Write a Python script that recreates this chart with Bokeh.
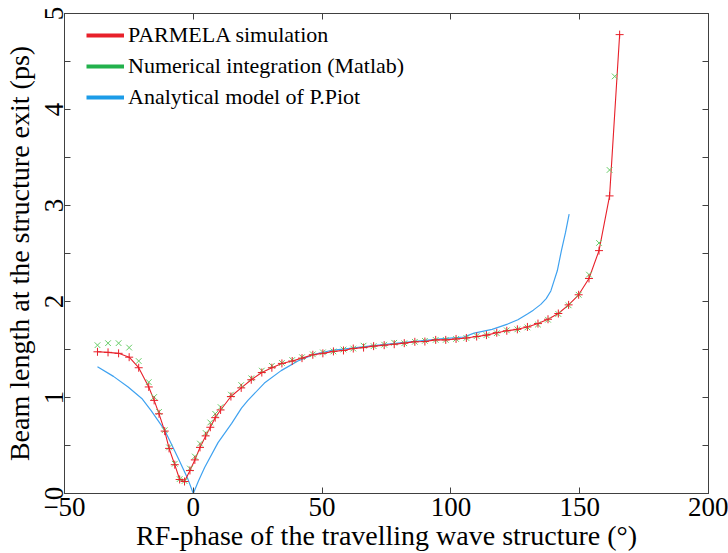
from bokeh.plotting import figure
from bokeh.models import (ColumnDataSource, Range1d, LinearAxis, FixedTicker,
                          Legend, LegendItem)
from bokeh.embed import file_html
from bokeh.resources import INLINE

# ---------------- data ----------------
parmela_x = [-37.2, -33.1, -29.0, -24.9, -21.2, -17.3, -15.2, -13.3, -11.1, -9.4,
             -7.2, -5.3, -3.4, -1.3, 0.6, 2.6, 4.8, 6.6, 8.5, 10.6,
             14.6, 18.6, 22.5, 26.6, 30.5, 34.4, 38.4, 42.2, 46.4, 50.3,
             54.4, 58.3, 62.1, 66.1, 70.0, 74.1, 78.0, 81.9, 86.0, 89.9,
             94.1, 98.0, 102.0, 106.0, 110.0, 113.8, 117.8, 121.7, 125.8, 129.7,
             133.8, 137.7, 141.7, 145.7, 149.6, 153.6, 157.5, 161.6, 165.5]
parmela_y = [1.476, 1.47, 1.46, 1.42, 1.31, 1.11, 0.97, 0.83, 0.65, 0.47,
             0.30, 0.146, 0.125, 0.24, 0.35, 0.48, 0.60, 0.69, 0.79, 0.87,
             1.01, 1.10, 1.185, 1.26, 1.31, 1.355, 1.38, 1.41, 1.445, 1.46,
             1.48, 1.49, 1.51, 1.52, 1.535, 1.545, 1.555, 1.566, 1.58, 1.583,
             1.60, 1.60, 1.61, 1.62, 1.635, 1.65, 1.675, 1.695, 1.71, 1.735,
             1.77, 1.815, 1.875, 1.965, 2.07, 2.24, 2.53, 3.10, 4.78]

matlab_x = [-37.2, -33.1, -29.0, -24.9, -21.2, -17.3, -15.2, -13.3, -11.1, -9.4,
            -7.2, -5.3, -3.4, -1.3, 0.6, 2.6, 4.8, 6.6, 8.5, 10.6,
            14.6, 18.6, 22.5, 26.6, 30.5, 34.4, 38.4, 42.2, 46.4, 50.3,
            54.4, 58.3, 62.1, 66.1, 70.0, 74.1, 78.0, 81.9, 86.0, 89.9,
            94.1, 98.0, 102.0, 106.0, 110.0, 113.8, 117.8, 121.7, 125.8, 129.7,
            133.8, 137.7, 141.7, 145.7, 149.6, 153.6, 157.5, 161.6, 163.6]
matlab_y = [1.545, 1.566, 1.566, 1.52, 1.38, 1.16, 1.005, 0.85, 0.66, 0.48,
            0.31, 0.15, 0.13, 0.26, 0.385, 0.52, 0.63, 0.74, 0.83, 0.90,
            1.03, 1.13, 1.20, 1.28, 1.33, 1.36, 1.39, 1.42, 1.45, 1.47,
            1.48, 1.50, 1.51, 1.54, 1.535, 1.55, 1.57, 1.565, 1.58, 1.59,
            1.60, 1.60, 1.61, 1.62, 1.64, 1.65, 1.67, 1.70, 1.71, 1.73,
            1.76, 1.81, 1.87, 1.96, 2.07, 2.28, 2.61, 3.37, 4.345]

piot_x = [-37.2, -31.0, -25.3, -20.0, -16.3, -11.1, -5.9, -2.1, 0.0, 2.0,
          4.4, 9.6, 14.9, 18.7, 21.2, 27.6, 34.1, 40.6, 47.0, 53.5,
          60.0, 66.4, 79.3, 92.2, 96.0, 105.0, 109.0, 116.0, 122.0, 126.0,
          129.7, 132.0, 134.9, 137.0, 138.8, 141.3, 142.9, 144.5, 145.9]
piot_y = [1.32, 1.22, 1.11, 0.99, 0.86, 0.66, 0.37, 0.15, 0.0, 0.13,
          0.27, 0.53, 0.73, 0.89, 0.97, 1.15, 1.28, 1.38, 1.45, 1.49,
          1.51, 1.53, 1.566, 1.60, 1.61, 1.63, 1.67, 1.71, 1.765, 1.81,
          1.87, 1.91, 1.97, 2.03, 2.11, 2.32, 2.53, 2.72, 2.91]

x_ticks = [-50, 0, 50, 100, 150, 200]
y_ticks = [0, 1, 2, 3, 4, 5]
y_minor = [0.5, 1.5, 2.5, 3.5, 4.5]

legend_labels = ["PARMELA simulation", "Numerical integration (Matlab)",
                 "Analytical model of P.Piot"]

RED = "#e8202a"
GREEN = "#22b14c"
GREEN_PT = "#66cc66"
BLUE = "#1c9ce8"
BLUE_LN = "#3fa2f0"
SERIF = "Liberation Serif"
AX = "#404040"

p = figure(width=728, height=553, output_backend="svg", toolbar_location=None,
           x_range=Range1d(-50, 200), y_range=Range1d(0, 5),
           min_border_left=63, min_border_right=20, min_border_top=13,
           min_border_bottom=59)
p.grid.visible = False
p.outline_line_color = AX
p.background_fill_color = "white"
p.border_fill_color = "white"

xa = p.xaxis[0]
xa.ticker = FixedTicker(ticks=x_ticks)
xa.axis_label = "RF-phase of the travelling wave structure (°)"
ya = p.yaxis[0]
ya.ticker = FixedTicker(ticks=y_ticks, minor_ticks=y_minor)
ya.axis_label = "Beam length at the structure exit (ps)"
ya.major_label_orientation = "vertical"
for ax in (xa, ya):
    ax.axis_line_color = AX
    ax.major_tick_line_color = AX
    ax.minor_tick_line_color = AX
    ax.major_tick_in = 6
    ax.major_tick_out = 0
    ax.minor_tick_in = 6
    ax.minor_tick_out = 0
    ax.major_label_text_font = SERIF
    ax.major_label_text_font_size = "27px"
    ax.major_label_text_color = "black"
    ax.axis_label_text_font = SERIF
    ax.axis_label_text_font_size = "28px"
    ax.axis_label_text_font_style = "normal"
    ax.axis_label_text_color = "black"
xa.major_label_standoff = 4
xa.axis_label_standoff = 1
ya.major_label_standoff = 2
ya.axis_label_standoff = 7

# mirror axes (ticks only, no labels drawn)
top = LinearAxis(ticker=FixedTicker(ticks=x_ticks), major_label_text_font_size="1px",
                 major_label_text_color=None,
                 major_tick_in=6, major_tick_out=0, minor_tick_line_color=None,
                 axis_line_color=AX, major_tick_line_color=AX, major_label_standoff=0)
right = LinearAxis(ticker=FixedTicker(ticks=y_ticks, minor_ticks=y_minor),
                   major_label_text_font_size="1px", major_label_text_color=None,
                   major_tick_in=6, major_tick_out=0, minor_tick_in=6, minor_tick_out=0,
                   axis_line_color=AX, major_tick_line_color=AX, minor_tick_line_color=AX,
                   major_label_standoff=0)
p.add_layout(top, "above")
p.add_layout(right, "right")

red_src = ColumnDataSource(dict(x=parmela_x, y=parmela_y))
grn_src = ColumnDataSource(dict(x=matlab_x, y=matlab_y))
blu_src = ColumnDataSource(dict(x=piot_x, y=piot_y))

p.line("x", "y", source=blu_src, line_color=BLUE_LN, line_width=1.2)
p.line("x", "y", source=red_src, line_color=RED, line_width=1.1)
p.scatter("x", "y", source=grn_src, marker="x", size=8, line_color=GREEN_PT,
          line_width=1)
p.scatter("x", "y", source=red_src, marker="cross", size=8, line_color=RED,
          line_width=1)

# legend samples: lines placed outside the visible range
off = dict(x=[-500, -400], y=[-50, -50])
r1 = p.line("x", "y", source=ColumnDataSource(off), line_color=RED, line_width=4)
r2 = p.line("x", "y", source=ColumnDataSource(off), line_color=GREEN, line_width=4)
r3 = p.line("x", "y", source=ColumnDataSource(off), line_color=BLUE, line_width=4)
legend = Legend(items=[LegendItem(label=legend_labels[0], renderers=[r1]),
                       LegendItem(label=legend_labels[1], renderers=[r2]),
                       LegendItem(label=legend_labels[2], renderers=[r3])],
                location=(22, 383), border_line_color=None,
                background_fill_alpha=0, padding=0, margin=0, spacing=5,
                glyph_width=38, glyph_height=26, label_height=26, label_standoff=4,
                label_text_font=SERIF, label_text_font_size="22px",
                label_text_color="black")
p.add_layout(legend, "center")

open("out.html", "w").write(file_html(p, INLINE))
